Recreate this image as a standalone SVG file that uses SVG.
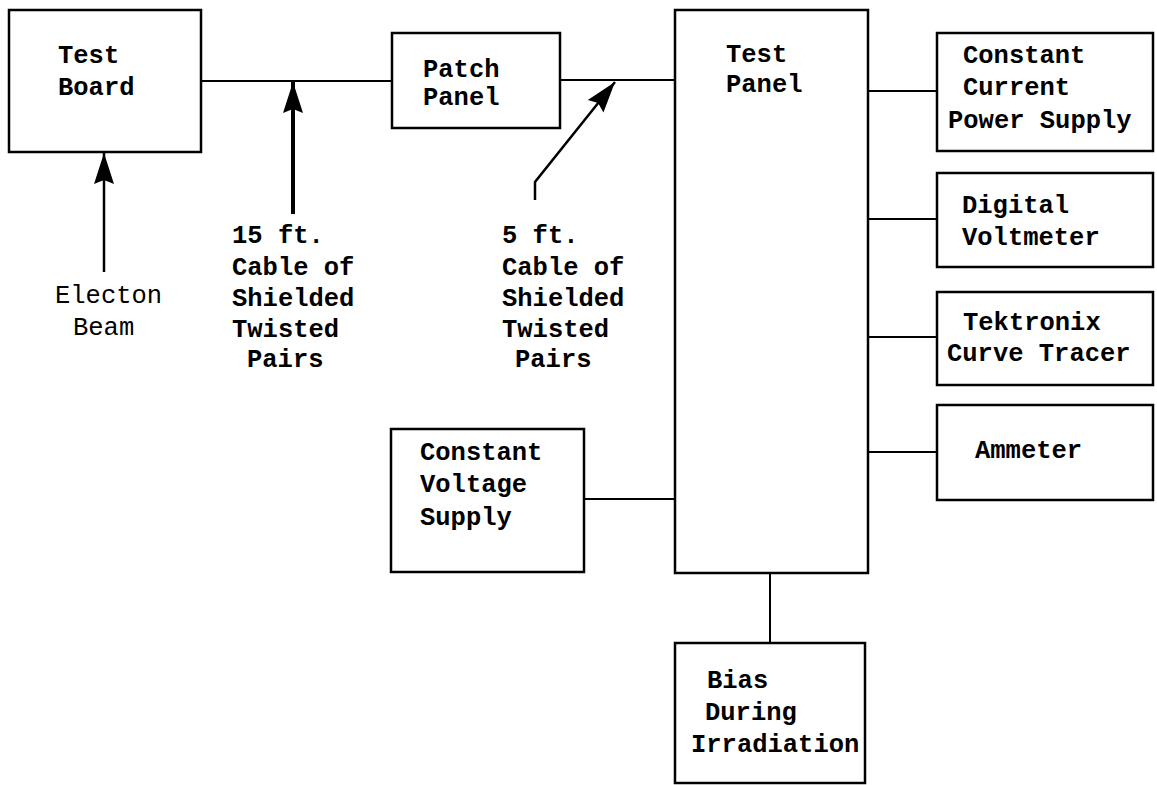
<svg xmlns="http://www.w3.org/2000/svg" width="1157" height="785" viewBox="0 0 1157 785">
<style>
.box{fill:none;stroke:#000;stroke-width:2.5}
.ln{fill:none;stroke:#000;stroke-width:2}
text{font-family:"Liberation Mono","Courier New",monospace;font-size:25.5px;font-weight:bold;fill:#000}
.lt{font-weight:normal}
</style>
<defs>
<marker id="ah" markerUnits="userSpaceOnUse" markerWidth="32" markerHeight="22" refX="31" refY="11" orient="auto">
<path d="M0,1 L31,11 L0,21 L4,11 z" fill="#000"/>
</marker>
</defs>
<rect width="1157" height="785" fill="#fff"/>
<g id="connectors">
<line class="ln" x1="201" y1="81" x2="392" y2="81"/>
<line class="ln" x1="560" y1="80" x2="675" y2="80"/>
<line class="ln" x1="868" y1="91" x2="937" y2="91"/>
<line class="ln" x1="868" y1="219" x2="937" y2="219"/>
<line class="ln" x1="868" y1="337" x2="937" y2="337"/>
<line class="ln" x1="868" y1="452" x2="937" y2="452"/>
<line class="ln" x1="584" y1="499" x2="675" y2="499"/>
<line class="ln" x1="770" y1="573" x2="770" y2="643"/>
<line stroke="#000" stroke-width="4" x1="293" y1="214" x2="293" y2="82" marker-end="url(#ah)"/>
<line stroke="#000" stroke-width="2.5" x1="104" y1="272" x2="104" y2="153" marker-end="url(#ah)"/>
<polyline fill="none" stroke="#000" stroke-width="2.5" points="535,200 535,182 615,82" marker-end="url(#ah)"/>
</g>
<g id="test-board"><rect class="box" x="9" y="10" width="192" height="142"/><text x="58" y="63">Test</text><text x="58" y="95">Board</text></g>
<g id="patch-panel"><rect class="box" x="392" y="33" width="168" height="95"/><text x="423" y="77">Patch</text><text x="423" y="105">Panel</text></g>
<g id="test-panel"><rect class="box" x="675" y="10" width="193" height="563"/><text x="726" y="62">Test</text><text x="726" y="92">Panel</text></g>
<g id="constant-current"><rect class="box" x="937" y="33" width="216" height="118"/><text x="963" y="63">Constant</text><text x="963" y="95">Current</text><text x="948" y="128">Power Supply</text></g>
<g id="digital-voltmeter"><rect class="box" x="937" y="173" width="216" height="94"/><text x="962" y="213">Digital</text><text x="962" y="245">Voltmeter</text></g>
<g id="tektronix"><rect class="box" x="937" y="292" width="216" height="93"/><text x="963" y="330">Tektronix</text><text x="947" y="361">Curve Tracer</text></g>
<g id="ammeter"><rect class="box" x="937" y="405" width="216" height="95"/><text x="975" y="458">Ammeter</text></g>
<g id="constant-voltage"><rect class="box" x="391" y="429" width="193" height="143"/><text x="420" y="460">Constant</text><text x="420" y="492">Voltage</text><text x="420" y="525">Supply</text></g>
<g id="bias"><rect class="box" x="675" y="643" width="190" height="140"/><text x="707" y="688">Bias</text><text x="705" y="720">During</text><text x="691" y="752">Irradiation</text></g>
<g id="electron-beam-label"><text class="lt" x="55" y="303">Electon</text><text class="lt" x="73" y="335">Beam</text></g>
<g id="cable15-label"><text x="232" y="243">15 ft.</text><text x="232" y="275">Cable of</text><text x="232" y="306">Shielded</text><text x="232" y="337">Twisted</text><text x="247" y="367">Pairs</text></g>
<g id="cable5-label"><text x="502" y="243">5 ft.</text><text x="502" y="275">Cable of</text><text x="502" y="306">Shielded</text><text x="502" y="337">Twisted</text><text x="515" y="367">Pairs</text></g>
</svg>
